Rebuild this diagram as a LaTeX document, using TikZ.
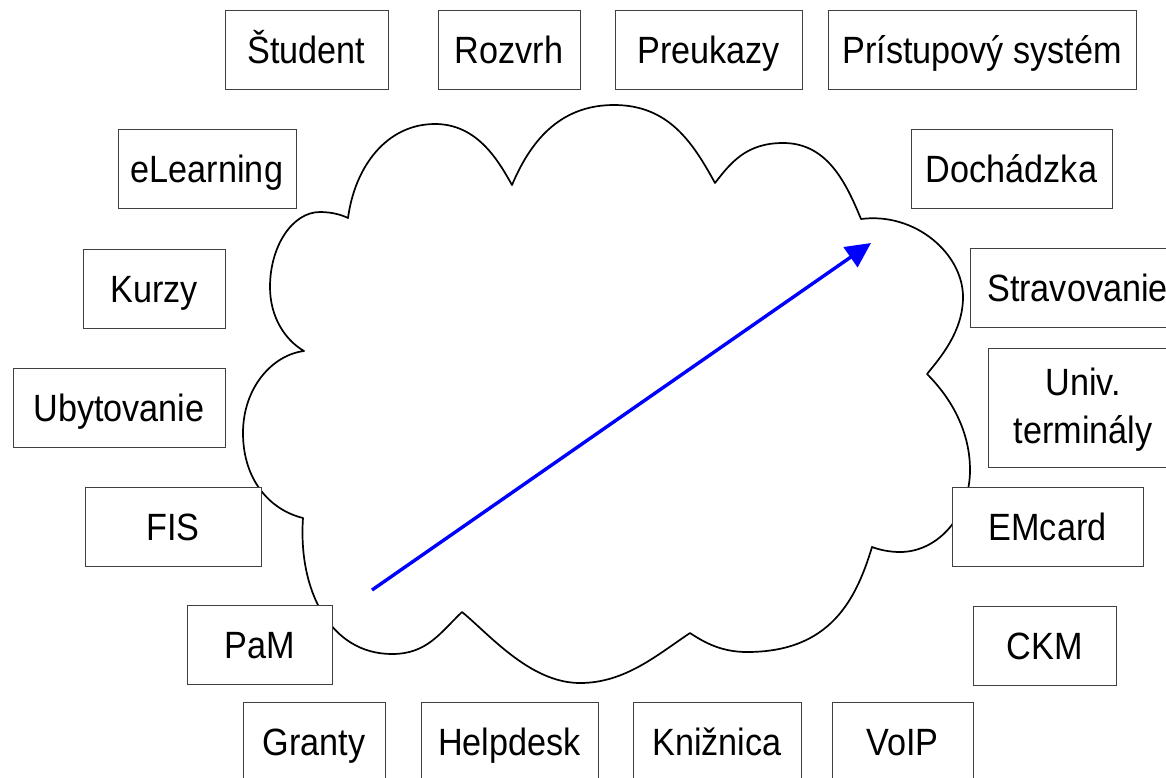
\documentclass[tikz,border=0pt]{standalone}
\usepackage{fontspec}
\setmainfont{Liberation Sans}[FakeStretch=0.9]
\usetikzlibrary{arrows.meta}
\definecolor{flowblue}{RGB}{0,0,255}
\tikzset{
  sysbox/.style={draw=black!75, line width=0.9pt, fill=white, inner sep=0pt,
    minimum height=79pt, font=\fontsize{38}{48}\selectfont,
    text height=27.2pt, text depth=0pt},
  cloudline/.style={draw=black, line width=1.7pt, line join=round},
  flow/.style={draw=flowblue, line width=3.4pt,
    -{Triangle[length=25pt, width=24pt]}},
  plaintext/.style={inner sep=0pt, font=\fontsize{38}{48}\selectfont, align=center}
}
\begin{document}
\begin{tikzpicture}[x=1pt, y=-1pt]
\path[use as bounding box, fill=white] (0,0) rectangle (1166,777);

% central cloud
\draw[cloudline] (348,218)
  .. controls (355,166) and (387,124) .. (435,124)
  .. controls (477,124) and (498,160) .. (512,185)
  .. controls (529.5,143.6) and (558,105) .. (614,105)
  .. controls (669,105) and (693,143) .. (715,183)
  .. controls (730.5,163) and (746,143) .. (783,143)
  .. controls (826,143) and (845,180) .. (861,219)
  .. controls (915.5,212) and (963,254) .. (963,297)
  .. controls (963,332) and (939.6,358.4) .. (927,374)
  .. controls (952,399) and (970,432) .. (970,470)
  .. controls (970,515) and (938.5,552) .. (900,552)
  .. controls (890,552) and (880,550) .. (872,547)
  .. controls (856,600) and (830,652) .. (747,652)
  .. controls (722,652) and (705,643) .. (690,633)
  .. controls (657,655) and (625,683) .. (580,683)
  .. controls (530,683) and (489,634) .. (462,612)
  .. controls (440,633) and (427,654) .. (392,654)
  .. controls (330,654) and (298,590) .. (303,518)
  .. controls (270,510) and (243,480) .. (243,433)
  .. controls (243,388) and (272,355) .. (304,351)
  .. controls (285,340) and (270,317) .. (270,287)
  .. controls (270,246) and (292.5,212) .. (320,212)
  .. controls (332,212) and (342,215) .. cycle;

% top row
\node[sysbox, minimum width=163pt] (student)  at (306.5,49.5) {Študent};
\node[sysbox, minimum width=142pt] (rozvrh)   at (509,49.5)   {Rozvrh};
\node[sysbox, minimum width=187pt] (preukazy) at (708.5,49.5) {Preukazy};
\node[sysbox, minimum width=308pt] (pristup)  at (982,49.5)   {Prístupový systém};

% left column
\node[sysbox, minimum width=178pt] (elearn) at (207,168.5) {eLearning};
\node[sysbox, minimum width=142pt] (kurzy)  at (154,288.5) {Kurzy};
\node[sysbox, minimum width=212pt] (ubyt)   at (119,407.5) {Ubytovanie};
\node[sysbox, minimum width=176pt] (fis)    at (173,527)   {FIS};
\node[sysbox, minimum width=145pt] (pam)    at (259.5,645) {PaM};

% right column
\node[sysbox, minimum width=201pt] (dochadzka) at (1011.5,168.5) {Dochádzka};
\node[sysbox, minimum width=215pt] (strav)     at (1077.5,288)   {Stravovanie};
\node[sysbox, minimum width=190pt, minimum height=119pt] (univ) at (1083,407.5) {};
\node[plaintext] (univtext) at ([yshift=-2pt]univ.center) {Univ.\\terminály};
\node[sysbox, minimum width=191pt] (emcard) at (1047.5,527) {EMcard};
\node[sysbox, minimum width=143pt] (ckm)    at (1044.5,646) {CKM};

% bottom row
\node[sysbox, minimum width=142pt] (granty)   at (314,741.5)   {Granty};
\node[sysbox, minimum width=177pt] (helpdesk) at (509.5,741.5) {Helpdesk};
\node[sysbox, minimum width=168pt] (kniznica) at (717,741.5)   {Knižnica};
\node[sysbox, minimum width=141pt] (voip)     at (902.5,741.5) {VoIP};

% data flow across the cloud
\coordinate (flowstart) at (372,590);
\coordinate (flowend)   at (871,243);
\draw[flow] (flowstart) -- (flowend);
\end{tikzpicture}
\end{document}
